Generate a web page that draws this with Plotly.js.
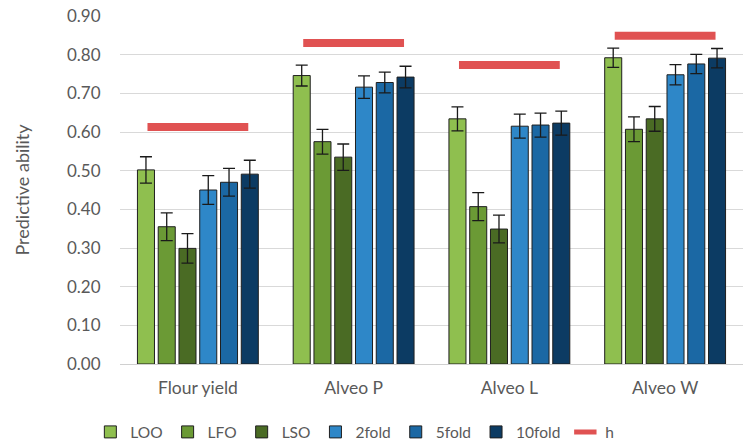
<!DOCTYPE html>
<html>
<head>
<meta charset="utf-8">
<script src="https://cdn.plot.ly/plotly-3.0.1.min.js"></script>
<style>html,body{margin:0;padding:0;background:#fff;}#chart{width:755px;height:448px;}</style>
</head>
<body>
<div id="chart"></div>
<script>
const categories = ["Flour yield", "Alveo P", "Alveo L", "Alveo W"];
const seriesNames = ["LOO", "LFO", "LSO", "2fold", "5fold", "10fold"];
const LOO = [0.502, 0.746, 0.634, 0.792];
const LFO = [0.355, 0.575, 0.407, 0.607];
const LSO = [0.299, 0.535, 0.349, 0.634];
const fold2 = [0.450, 0.716, 0.615, 0.748];
const fold5 = [0.470, 0.728, 0.618, 0.776];
const fold10 = [0.491, 0.742, 0.623, 0.791];
const errLOO = [0.034, 0.027, 0.031, 0.025];
const errLFO = [0.036, 0.032, 0.036, 0.032];
const errLSO = [0.038, 0.034, 0.036, 0.032];
const err2 = [0.037, 0.029, 0.031, 0.026];
const err5 = [0.036, 0.027, 0.031, 0.025];
const err10 = [0.036, 0.028, 0.031, 0.025];
const h = [0.613, 0.830, 0.773, 0.849];
const yTicks = [0, 0.1, 0.2, 0.3, 0.4, 0.5, 0.6, 0.7, 0.8, 0.9];

const values = [LOO, LFO, LSO, fold2, fold5, fold10];
const errs = [errLOO, errLFO, errLSO, err2, err5, err10];
const colors = ["#8fbf4f", "#6b9a35", "#4a6b24", "#2e87c8", "#1b68a4", "#0c3b63"];

const traces = values.map((v, i) => ({
  type: "bar",
  name: seriesNames[i],
  x: categories,
  y: v,
  marker: {color: colors[i], line: {color: "#1f1f1f", width: 1}},
  error_y: {type: "data", array: errs[i], visible: true, color: "#1a1a1a", thickness: 1.3, width: 6},
  hoverinfo: "y"
}));
traces.push({
  type: "scatter",
  mode: "markers",
  name: "h",
  x: categories,
  y: h,
  marker: {symbol: "line-ew", size: 72, color: "#e05252", line: {color: "#e05252", width: 8}},
  hoverinfo: "y"
});

const layout = {
  width: 755,
  height: 448,
  margin: {l: 120, r: 12, t: 16, b: 84, autoexpand: false},
  paper_bgcolor: "#ffffff",
  plot_bgcolor: "#ffffff",
  font: {family: "Lato, 'Open Sans', sans-serif", size: 16, color: "#595959"},
  barmode: "group",
  bargap: 0.2,
  bargroupgap: 0.18,
  showlegend: true,
  legend: {orientation: "h", x: 0.47, xanchor: "center", xref: "container",
           y: 0.035, yanchor: "middle", yref: "container",
           font: {size: 15.5, color: "#595959"}, itemwidth: 30, tracegroupgap: 0},
  xaxis: {
    type: "category",
    automargin: false,
    showgrid: false,
    showline: true,
    linecolor: "#d0d0d0",
    linewidth: 1,
    ticks: "outside",
    ticklen: 8,
    tickcolor: "rgba(0,0,0,0)",
    tickfont: {size: 17.5, color: "#595959"},
    fixedrange: true
  },
  yaxis: {
    automargin: false,
    range: [0, 0.9],
    tickvals: yTicks,
    ticktext: yTicks.map(t => t.toFixed(2)),
    showgrid: true,
    gridcolor: "#d9d9d9",
    gridwidth: 1,
    zeroline: false,
    showline: false,
    ticks: "outside",
    ticklen: 15,
    tickcolor: "rgba(0,0,0,0)",
    tickfont: {size: 17, color: "#595959"},
    title: {text: "Predictive ability", font: {size: 18, color: "#595959"}, standoff: 32},
    fixedrange: true
  }
};

Plotly.newPlot("chart", traces, layout, {displayModeBar: false, staticPlot: true});
</script>
</body>
</html>
